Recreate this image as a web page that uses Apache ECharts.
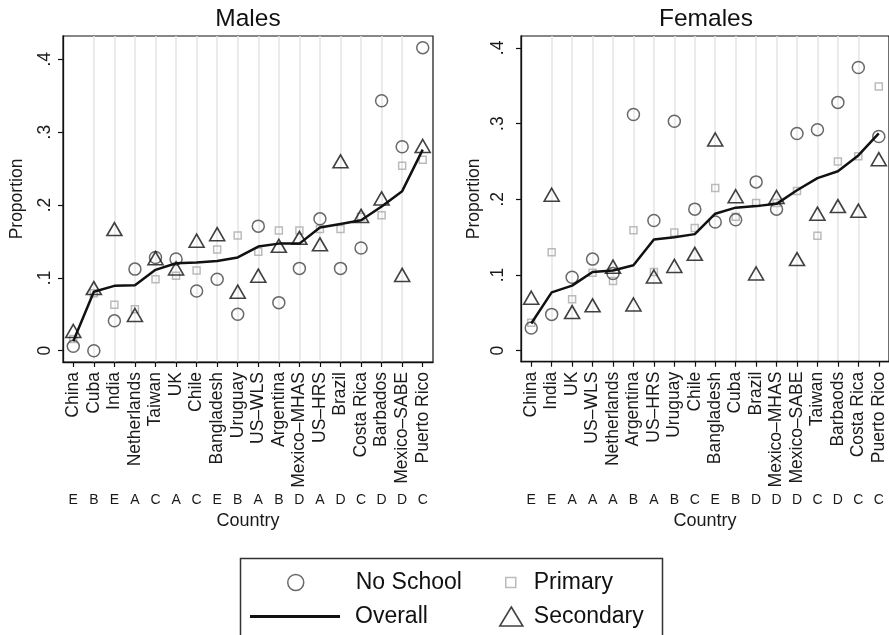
<!DOCTYPE html>
<html>
<head>
<meta charset="utf-8">
<script src="https://cdn.jsdelivr.net/npm/echarts@6/dist/echarts.min.js"></script>
<style>
  html, body { margin: 0; padding: 0; background: #fff; }
  #chart { width: 889px; height: 635px; }
</style>
</head>
<body>
<div id="chart"></div>
<script>
// ---- Males panel (countries ordered by overall proportion) ----
const maleCountries = ['China', 'Cuba', 'India', 'Netherlands', 'Taiwan', 'UK', 'Chile', 'Bangladesh', 'Uruguay',
  'US\u2013WLS', 'Argentina', 'Mexico\u2013MHAS', 'US\u2013HRS', 'Brazil', 'Costa Rica', 'Barbados', 'Mexico\u2013SABE', 'Puerto Rico'];
const maleGroups = ['E', 'B', 'E', 'A', 'C', 'A', 'C', 'E', 'B', 'A', 'B', 'D', 'A', 'D', 'C', 'D', 'D', 'C'];
const maleNoSchool  = [0.006, 0.000, 0.041, 0.112, 0.128, 0.126, 0.082, 0.098, 0.050, 0.171, 0.066, 0.113, 0.181, 0.113, 0.141, 0.343, 0.280, 0.416];
const malePrimary   = [0.016, 0.079, 0.063, 0.057, 0.098, 0.103, 0.110, 0.139, 0.158, 0.136, 0.165, 0.165, 0.167, 0.167, 0.184, 0.186, 0.254, 0.262];
const maleSecondary = [0.027, 0.086, 0.167, 0.049, 0.127, 0.113, 0.151, 0.160, 0.081, 0.103, 0.144, 0.155, 0.146, 0.260, 0.185, 0.209, 0.104, 0.281];
const maleOverall   = [0.013, 0.081, 0.089, 0.090, 0.111, 0.120, 0.121, 0.123, 0.128, 0.143, 0.147, 0.147, 0.169, 0.174, 0.179, 0.198, 0.219, 0.276];

// ---- Females panel ----
const femaleCountries = ['China', 'India', 'UK', 'US\u2013WLS', 'Netherlands', 'Argentina', 'US\u2013HRS', 'Uruguay', 'Chile',
  'Bangladesh', 'Cuba', 'Brazil', 'Mexico\u2013MHAS', 'Mexico\u2013SABE', 'Taiwan', 'Barbaods', 'Costa Rica', 'Puerto Rico'];
const femaleGroups = ['E', 'E', 'A', 'A', 'A', 'B', 'A', 'B', 'C', 'E', 'B', 'D', 'D', 'D', 'C', 'D', 'C', 'C'];
const femaleNoSchool  = [0.030, 0.048, 0.097, 0.121, 0.102, 0.312, 0.172, 0.303, 0.187, 0.170, 0.173, 0.223, 0.187, 0.287, 0.292, 0.328, 0.374, 0.283];
const femalePrimary   = [0.037, 0.130, 0.068, 0.103, 0.092, 0.159, 0.104, 0.156, 0.162, 0.215, 0.177, 0.195, 0.195, 0.211, 0.152, 0.250, 0.257, 0.349];
const femaleSecondary = [0.070, 0.206, 0.051, 0.060, 0.111, 0.061, 0.098, 0.112, 0.128, 0.279, 0.204, 0.102, 0.203, 0.121, 0.181, 0.191, 0.185, 0.253];
const femaleOverall   = [0.036, 0.077, 0.086, 0.104, 0.106, 0.113, 0.147, 0.150, 0.154, 0.181, 0.189, 0.191, 0.194, 0.212, 0.228, 0.237, 0.258, 0.287];

// ---- Shared y ticks ----
const yTickValues = [0, 0.1, 0.2, 0.3, 0.4];
const yTickLabels = ['0', '.1', '.2', '.3', '.4'];

const FONT = "'Liberation Sans', Arial, Helvetica, sans-serif";
const INK = '#111';

function yLabel(v) {
  const i = yTickValues.findIndex(t => Math.abs(t - v) < 1e-9);
  return i >= 0 ? yTickLabels[i] : '';
}

function yAxisFor(gridIndex, min, max, labelMargin, nameGap) {
  return {
    gridIndex, type: 'value', min, max,
    axisLine: { show: true, onZero: false, lineStyle: { color: INK, width: 1.3 } },
    axisTick: { show: true, length: 5, customValues: yTickValues, lineStyle: { color: INK, width: 1.2 } },
    axisLabel: { customValues: yTickValues, rotate: 90, margin: labelMargin, fontSize: 17.5, color: '#1a1a1a', formatter: yLabel },
    splitLine: { show: false },
    name: 'Proportion', nameLocation: 'middle', nameRotate: 90, nameGap,
    nameTextStyle: { fontSize: 17.5, color: '#1a1a1a' }
  };
}

function countryAxis(gridIndex, cats) {
  return {
    gridIndex, type: 'category', data: cats, boundaryGap: true, position: 'bottom',
    axisLine: { show: true, onZero: false, lineStyle: { color: INK, width: 1.3 } },
    axisTick: { show: true, alignWithLabel: true, interval: 0, length: 5, lineStyle: { color: INK, width: 1.2 } },
    axisLabel: { rotate: 90, interval: 0, margin: 10, fontSize: 17.5, color: '#1a1a1a' },
    splitLine: { show: false }
  };
}

function groupAxis(gridIndex, groups) {
  return {
    gridIndex, type: 'category', data: groups, boundaryGap: true, position: 'bottom', offset: 131,
    axisLine: { show: false, onZero: false }, axisTick: { show: false },
    axisLabel: { interval: 0, margin: 0, fontSize: 14, color: '#1a1a1a' },
    splitLine: { show: false },
    name: 'Country', nameLocation: 'middle', nameGap: 18,
    nameTextStyle: { fontSize: 18, color: '#1a1a1a' }
  };
}

// hidden index axis that carries the light vertical guide at each country
function guideAxis(gridIndex, cats) {
  const idx = cats.map((_, i) => i);
  return {
    gridIndex, type: 'value', min: -0.5, max: cats.length - 0.5, position: 'top',
    axisLine: { show: false, onZero: false },
    axisTick: { show: false, customValues: idx },
    axisLabel: { show: false, customValues: idx },
    splitLine: { show: true, showMinLine: false, showMaxLine: false, lineStyle: { color: '#e4e4e4', width: 1.5 } }
  };
}

function panelSeries(idx, noSchool, primary, overall, secondary) {
  return [
    {
      name: 'Primary', type: 'scatter', xAxisIndex: idx * 2, yAxisIndex: idx, z: 3,
      symbol: 'rect', symbolSize: 7,
      itemStyle: { color: 'transparent', borderColor: '#aaaaaa', borderWidth: 1.5 },
      data: primary
    },
    {
      name: 'No School', type: 'scatter', xAxisIndex: idx * 2, yAxisIndex: idx, z: 4,
      symbol: 'circle', symbolSize: 12,
      itemStyle: { color: 'transparent', borderColor: '#444', borderWidth: 1.5 },
      data: noSchool
    },
    {
      name: 'Overall', type: 'line', xAxisIndex: idx * 2, yAxisIndex: idx, z: 5,
      symbol: 'none', itemStyle: { color: INK }, lineStyle: { color: INK, width: 2.5 },
      data: overall
    },
    {
      name: 'Secondary', type: 'scatter', xAxisIndex: idx * 2, yAxisIndex: idx, z: 6,
      symbol: 'triangle', symbolSize: [15, 13],
      itemStyle: { color: 'transparent', borderColor: INK, borderWidth: 1.6 },
      data: secondary
    }
  ];
}

function legendItem(entry, left, top, w, h, textPad, extra) {
  return Object.assign({
    data: [entry], left, top, orient: 'horizontal', padding: 0,
    itemWidth: w, itemHeight: h, selectedMode: false,
    textStyle: { fontSize: 23, color: INK, padding: [0, 0, 0, textPad] }
  }, extra || {});
}

const chart = echarts.init(document.getElementById('chart'), null, { renderer: 'canvas' });
chart.setOption({
  animation: false,
  textStyle: { fontFamily: FONT },
  title: [
    { text: 'Males', left: 248, top: 7, textAlign: 'center', padding: 0,
      textStyle: { fontSize: 24.5, fontWeight: 'normal', color: INK } },
    { text: 'Females', left: 706, top: 7, textAlign: 'center', padding: 0,
      textStyle: { fontSize: 24.5, fontWeight: 'normal', color: INK } }
  ],
  grid: [
    { left: 63, top: 36, width: 370, height: 326, show: true, borderColor: INK, borderWidth: 1.2, backgroundColor: 'transparent' },
    { left: 521, top: 36, width: 370.3, height: 325.7, show: true, borderColor: INK, borderWidth: 1.2, backgroundColor: 'transparent' }
  ],
  xAxis: [
    countryAxis(0, maleCountries), groupAxis(0, maleGroups),
    countryAxis(1, femaleCountries), groupAxis(1, femaleGroups),
    guideAxis(0, maleCountries), guideAxis(1, femaleCountries)
  ],
  yAxis: [
    yAxisFor(0, -0.0155, 0.432, 9, 37),
    yAxisFor(1, -0.0145, 0.4157, 14, 38)
  ],
  legend: [
    legendItem('No School', 287, 571, 90, 16, 10, { itemStyle: { borderWidth: 1.5, borderColor: '#444' } }),
    legendItem({ name: 'Overall', icon: 'rect' }, 250, 605, 90, 3, 10,
      { symbolKeepAspect: false, itemStyle: { color: INK, borderWidth: 0 } }),
    legendItem('Primary', 505, 571, 10, 10, 13, { itemStyle: { borderWidth: 1.5, borderColor: '#aaaaaa' } }),
    legendItem('Secondary', 499, 605, 23, 19, 6, { itemStyle: { borderWidth: 1.6, borderColor: INK } })
  ],
  graphic: [
    { type: 'rect', silent: true, z: -10,
      shape: { x: 240.5, y: 558.5, width: 422, height: 100 },
      style: { fill: 'none', stroke: '#333', lineWidth: 1.5 } }
  ],
  series: [].concat(
    panelSeries(0, maleNoSchool, malePrimary, maleOverall, maleSecondary),
    panelSeries(1, femaleNoSchool, femalePrimary, femaleOverall, femaleSecondary)
  )
});
</script>
</body>
</html>
